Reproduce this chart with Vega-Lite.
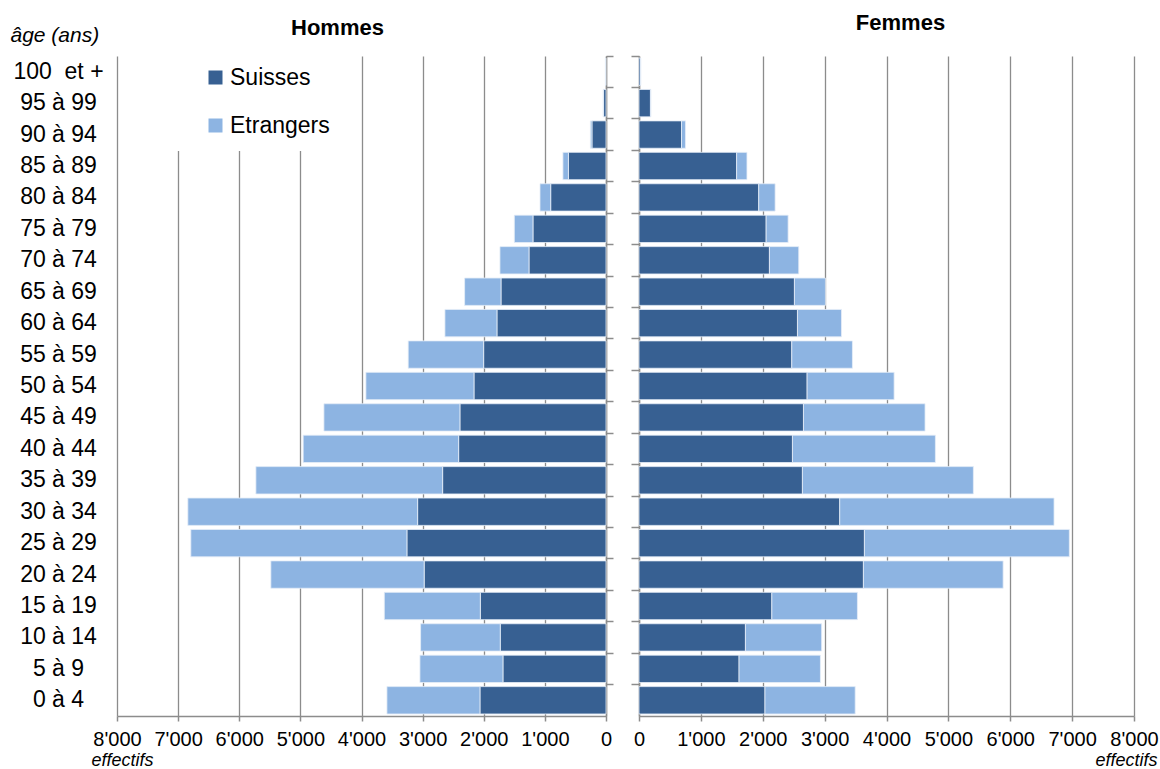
{
  "$schema": "https://vega.github.io/schema/vega-lite/v6.json",
  "background": "white",
  "padding": {"left": 10, "top": 12, "right": 0, "bottom": 0},
  "config": {
    "font": "Liberation Sans",
    "view": {"stroke": null},
    "axis": {"gridColor": "#8c8c8c", "domainColor": "#8c8c8c", "tickColor": "#8c8c8c", "labelColor": "#000000", "titleColor": "#000000", "gridWidth": 1.3, "domainWidth": 1.5, "tickWidth": 1.5}
  },
  "datasets": {
    "pop": [
      {"age": "100\u00a0 et +", "sexe": "Hommes", "nat": "Suisses", "n": 8},
      {"age": "100\u00a0 et +", "sexe": "Hommes", "nat": "Etrangers", "n": 2},
      {"age": "95 à 99", "sexe": "Hommes", "nat": "Suisses", "n": 40},
      {"age": "95 à 99", "sexe": "Hommes", "nat": "Etrangers", "n": 8},
      {"age": "90 à 94", "sexe": "Hommes", "nat": "Suisses", "n": 230},
      {"age": "90 à 94", "sexe": "Hommes", "nat": "Etrangers", "n": 25},
      {"age": "85 à 89", "sexe": "Hommes", "nat": "Suisses", "n": 615},
      {"age": "85 à 89", "sexe": "Hommes", "nat": "Etrangers", "n": 90},
      {"age": "80 à 84", "sexe": "Hommes", "nat": "Suisses", "n": 905},
      {"age": "80 à 84", "sexe": "Hommes", "nat": "Etrangers", "n": 175},
      {"age": "75 à 79", "sexe": "Hommes", "nat": "Suisses", "n": 1195},
      {"age": "75 à 79", "sexe": "Hommes", "nat": "Etrangers", "n": 305},
      {"age": "70 à 74", "sexe": "Hommes", "nat": "Suisses", "n": 1260},
      {"age": "70 à 74", "sexe": "Hommes", "nat": "Etrangers", "n": 475},
      {"age": "65 à 69", "sexe": "Hommes", "nat": "Suisses", "n": 1718},
      {"age": "65 à 69", "sexe": "Hommes", "nat": "Etrangers", "n": 595},
      {"age": "60 à 64", "sexe": "Hommes", "nat": "Suisses", "n": 1784},
      {"age": "60 à 64", "sexe": "Hommes", "nat": "Etrangers", "n": 851},
      {"age": "55 à 59", "sexe": "Hommes", "nat": "Suisses", "n": 2002},
      {"age": "55 à 59", "sexe": "Hommes", "nat": "Etrangers", "n": 1234},
      {"age": "50 à 54", "sexe": "Hommes", "nat": "Suisses", "n": 2160},
      {"age": "50 à 54", "sexe": "Hommes", "nat": "Etrangers", "n": 1768},
      {"age": "45 à 49", "sexe": "Hommes", "nat": "Suisses", "n": 2390},
      {"age": "45 à 49", "sexe": "Hommes", "nat": "Etrangers", "n": 2225},
      {"age": "40 à 44", "sexe": "Hommes", "nat": "Suisses", "n": 2411},
      {"age": "40 à 44", "sexe": "Hommes", "nat": "Etrangers", "n": 2543},
      {"age": "35 à 39", "sexe": "Hommes", "nat": "Suisses", "n": 2673},
      {"age": "35 à 39", "sexe": "Hommes", "nat": "Etrangers", "n": 3055},
      {"age": "30 à 34", "sexe": "Hommes", "nat": "Suisses", "n": 3082},
      {"age": "30 à 34", "sexe": "Hommes", "nat": "Etrangers", "n": 3759},
      {"age": "25 à 29", "sexe": "Hommes", "nat": "Suisses", "n": 3257},
      {"age": "25 à 29", "sexe": "Hommes", "nat": "Etrangers", "n": 3535},
      {"age": "20 à 24", "sexe": "Hommes", "nat": "Suisses", "n": 2975},
      {"age": "20 à 24", "sexe": "Hommes", "nat": "Etrangers", "n": 2508},
      {"age": "15 à 19", "sexe": "Hommes", "nat": "Suisses", "n": 2056},
      {"age": "15 à 19", "sexe": "Hommes", "nat": "Etrangers", "n": 1571},
      {"age": "10 à 14", "sexe": "Hommes", "nat": "Suisses", "n": 1730},
      {"age": "10 à 14", "sexe": "Hommes", "nat": "Etrangers", "n": 1303},
      {"age": "5 à 9", "sexe": "Hommes", "nat": "Suisses", "n": 1686},
      {"age": "5 à 9", "sexe": "Hommes", "nat": "Etrangers", "n": 1358},
      {"age": "0 à 4", "sexe": "Hommes", "nat": "Suisses", "n": 2062},
      {"age": "0 à 4", "sexe": "Hommes", "nat": "Etrangers", "n": 1522},
      {"age": "100\u00a0 et +", "sexe": "Femmes", "nat": "Suisses", "n": 25},
      {"age": "100\u00a0 et +", "sexe": "Femmes", "nat": "Etrangers", "n": 3},
      {"age": "95 à 99", "sexe": "Femmes", "nat": "Suisses", "n": 185},
      {"age": "95 à 99", "sexe": "Femmes", "nat": "Etrangers", "n": 8},
      {"age": "90 à 94", "sexe": "Femmes", "nat": "Suisses", "n": 687},
      {"age": "90 à 94", "sexe": "Femmes", "nat": "Etrangers", "n": 64},
      {"age": "85 à 89", "sexe": "Femmes", "nat": "Suisses", "n": 1578},
      {"age": "85 à 89", "sexe": "Femmes", "nat": "Etrangers", "n": 167},
      {"age": "80 à 84", "sexe": "Femmes", "nat": "Suisses", "n": 1935},
      {"age": "80 à 84", "sexe": "Femmes", "nat": "Etrangers", "n": 265},
      {"age": "75 à 79", "sexe": "Femmes", "nat": "Suisses", "n": 2055},
      {"age": "75 à 79", "sexe": "Femmes", "nat": "Etrangers", "n": 355},
      {"age": "70 à 74", "sexe": "Femmes", "nat": "Suisses", "n": 2108},
      {"age": "70 à 74", "sexe": "Femmes", "nat": "Etrangers", "n": 474},
      {"age": "65 à 69", "sexe": "Femmes", "nat": "Suisses", "n": 2512},
      {"age": "65 à 69", "sexe": "Femmes", "nat": "Etrangers", "n": 501},
      {"age": "60 à 64", "sexe": "Femmes", "nat": "Suisses", "n": 2561},
      {"age": "60 à 64", "sexe": "Femmes", "nat": "Etrangers", "n": 711},
      {"age": "55 à 59", "sexe": "Femmes", "nat": "Suisses", "n": 2469},
      {"age": "55 à 59", "sexe": "Femmes", "nat": "Etrangers", "n": 980},
      {"age": "50 à 54", "sexe": "Femmes", "nat": "Suisses", "n": 2717},
      {"age": "50 à 54", "sexe": "Femmes", "nat": "Etrangers", "n": 1406},
      {"age": "45 à 49", "sexe": "Femmes", "nat": "Suisses", "n": 2658},
      {"age": "45 à 49", "sexe": "Femmes", "nat": "Etrangers", "n": 1965},
      {"age": "40 à 44", "sexe": "Femmes", "nat": "Suisses", "n": 2480},
      {"age": "40 à 44", "sexe": "Femmes", "nat": "Etrangers", "n": 2310},
      {"age": "35 à 39", "sexe": "Femmes", "nat": "Suisses", "n": 2641},
      {"age": "35 à 39", "sexe": "Femmes", "nat": "Etrangers", "n": 2763},
      {"age": "30 à 34", "sexe": "Femmes", "nat": "Suisses", "n": 3244},
      {"age": "30 à 34", "sexe": "Femmes", "nat": "Etrangers", "n": 3464},
      {"age": "25 à 29", "sexe": "Femmes", "nat": "Suisses", "n": 3643},
      {"age": "25 à 29", "sexe": "Femmes", "nat": "Etrangers", "n": 3312},
      {"age": "20 à 24", "sexe": "Femmes", "nat": "Suisses", "n": 3627},
      {"age": "20 à 24", "sexe": "Femmes", "nat": "Etrangers", "n": 2258},
      {"age": "15 à 19", "sexe": "Femmes", "nat": "Suisses", "n": 2147},
      {"age": "15 à 19", "sexe": "Femmes", "nat": "Etrangers", "n": 1383},
      {"age": "10 à 14", "sexe": "Femmes", "nat": "Suisses", "n": 1720},
      {"age": "10 à 14", "sexe": "Femmes", "nat": "Etrangers", "n": 1232},
      {"age": "5 à 9", "sexe": "Femmes", "nat": "Suisses", "n": 1617},
      {"age": "5 à 9", "sexe": "Femmes", "nat": "Etrangers", "n": 1315},
      {"age": "0 à 4", "sexe": "Femmes", "nat": "Suisses", "n": 2036},
      {"age": "0 à 4", "sexe": "Femmes", "nat": "Etrangers", "n": 1458}
    ]
  },
  "data": {"name": "pop"},
  "spacing": 16,
  "resolve": {"scale": {"color": "independent"}},
  "hconcat": [
    {
      "width": 489,
      "height": 660,
      "transform": [{"filter": "datum.sexe === 'Hommes'"}],
      "title": {"text": "Hommes", "fontSize": 22, "fontWeight": "bold", "color": "#000000", "frame": "group", "baseline": "alphabetic", "dx": -24, "offset": -33},
      "layer": [
        {
          "mark": {"type": "bar", "height": {"band": 0.87}, "stroke": "#e6edf7", "strokeWidth": 0.8},
          "encoding": {
            "y": {
              "field": "age", "type": "nominal",
              "sort": ["100\u00a0 et +", "95 à 99", "90 à 94", "85 à 89", "80 à 84", "75 à 79", "70 à 74", "65 à 69", "60 à 64", "55 à 59", "50 à 54", "45 à 49", "40 à 44", "35 à 39", "30 à 34", "25 à 29", "20 à 24", "15 à 19", "10 à 14", "5 à 9", "0 à 4"],
              "scale": {"paddingInner": 0, "paddingOuter": 0},
              "axis": {"orient": "left", "ticks": false, "tickSize": 0, "domain": false, "labelAlign": "center", "labelPadding": 59, "labelFontSize": 23, "labelBaseline": "middle",
                "title": "âge (ans)", "titleAngle": 0, "titleX": -107, "titleY": -21, "titleAlign": "left", "titleBaseline": "middle", "titleFontStyle": "italic", "titleFontWeight": "normal", "titleFontSize": 21}
            },
            "x": {
              "field": "n", "type": "quantitative", "stack": "zero",
              "scale": {"domain": [0, 8000], "reverse": true, "nice": false},
              "axis": {"values": [0, 1000, 2000, 3000, 4000, 5000, 6000, 7000, 8000], "grid": true, "tickSize": 5, "labelFontSize": 20, "labelPadding": 8, "labelFlush": false, "labelOverlap": false,
                "labelExpr": "replace(format(datum.value, ','), ',', \"'\")",
                "title": "effectifs", "titleFontStyle": "italic", "titleFontWeight": "normal", "titleFontSize": 18, "titleX": -26, "titleY": 49, "titleAlign": "left", "titleBaseline": "alphabetic"}
            },
            "color": {
              "field": "nat", "type": "nominal",
              "scale": {"domain": ["Suisses", "Etrangers"], "range": ["#376092", "#8DB4E2"]},
              "legend": {"orient": "none", "legendX": 53, "legendY": -3, "title": " ", "titleOrient": "left", "titlePadding": 21, "titleFontSize": 22,
                "fillColor": "white", "padding": 13, "symbolType": "square", "symbolSize": 196, "symbolStrokeWidth": 0, "labelFontSize": 23, "labelColor": "#000000", "labelOffset": 3, "rowPadding": 24,
                "labelExpr": "datum.label + '\u00a0\u00a0\u00a0\u00a0\u00a0\u00a0'"}
            },
            "order": {"field": "nat", "sort": "descending"}
          }
        },
        {
          "mark": {"type": "tick", "opacity": 0},
          "encoding": {
            "y": {
              "field": "age", "type": "nominal",
              "sort": ["100\u00a0 et +", "95 à 99", "90 à 94", "85 à 89", "80 à 84", "75 à 79", "70 à 74", "65 à 69", "60 à 64", "55 à 59", "50 à 54", "45 à 49", "40 à 44", "35 à 39", "30 à 34", "25 à 29", "20 à 24", "15 à 19", "10 à 14", "5 à 9", "0 à 4"],
              "axis": {"orient": "right", "labels": false, "tickSize": 7, "title": null, "bandPosition": 0}
            }
          }
        }
      ],
      "resolve": {"axis": {"y": "independent"}}
    },
    {
      "width": 495,
      "height": 660,
      "transform": [{"filter": "datum.sexe === 'Femmes'"}],
      "title": {"text": "Femmes", "fontSize": 22, "fontWeight": "bold", "color": "#000000", "frame": "group", "baseline": "alphabetic", "dx": 14, "offset": 3},
      "mark": {"type": "bar", "height": {"band": 0.87}, "stroke": "#e6edf7", "strokeWidth": 0.8},
      "encoding": {
        "y": {
          "field": "age", "type": "nominal",
          "sort": ["100\u00a0 et +", "95 à 99", "90 à 94", "85 à 89", "80 à 84", "75 à 79", "70 à 74", "65 à 69", "60 à 64", "55 à 59", "50 à 54", "45 à 49", "40 à 44", "35 à 39", "30 à 34", "25 à 29", "20 à 24", "15 à 19", "10 à 14", "5 à 9", "0 à 4"],
          "scale": {"paddingInner": 0, "paddingOuter": 0},
          "axis": {"orient": "left", "labels": false, "tickSize": 8, "title": null, "bandPosition": 0}
        },
        "x": {
          "field": "n", "type": "quantitative", "stack": "zero",
          "scale": {"domain": [0, 8000], "nice": false},
          "axis": {"values": [0, 1000, 2000, 3000, 4000, 5000, 6000, 7000, 8000], "grid": true, "tickSize": 5, "labelFontSize": 20, "labelPadding": 8, "labelFlush": false, "labelOverlap": false,
            "labelExpr": "replace(format(datum.value, ','), ',', \"'\")",
            "title": "effectifs", "titleFontStyle": "italic", "titleFontWeight": "normal", "titleFontSize": 18, "titleX": 518, "titleY": 49, "titleAlign": "right", "titleBaseline": "alphabetic"}
        },
        "color": {
          "field": "nat", "type": "nominal",
          "scale": {"domain": ["Suisses", "Etrangers"], "range": ["#376092", "#8DB4E2"]},
          "legend": null
        },
        "order": {"field": "nat", "sort": "descending"}
      }
    }
  ]
}
